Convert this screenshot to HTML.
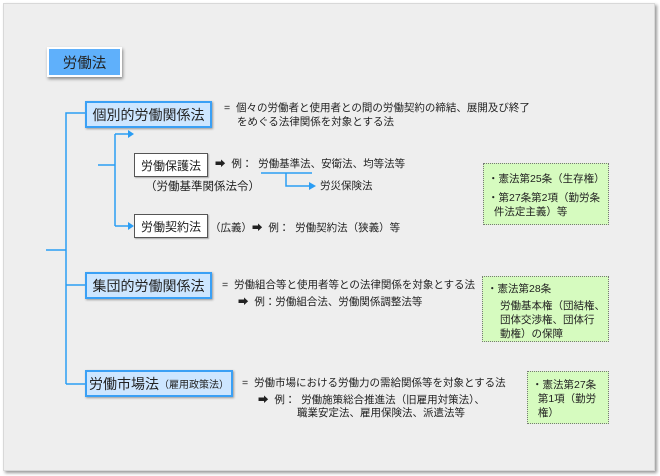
<!DOCTYPE html>
<html><head><meta charset="utf-8"><style>
body{margin:0;width:660px;height:476px;background:#fff;position:relative;overflow:hidden;font-family:"Liberation Sans","Noto Sans CJK JP",sans-serif;color:#222}
.panel{position:absolute;left:3px;top:3px;width:650px;height:466px;background:#eeeeee;border:1px solid #d8d8d8;box-shadow:2px 2px 3px #999}
.t{position:absolute;font-size:10.5px;white-space:nowrap;line-height:14px}
.box{position:absolute;box-sizing:border-box;display:flex;align-items:center;justify-content:center;white-space:nowrap}
.blue{background:#cde6ff;border:2px solid #3aa0f5;font-size:14px;box-shadow:1px 1px 2px #999}
.white{background:#fff;border:1px solid #555;font-size:12px;box-shadow:1px 1px 1px #aaa}
.green{position:absolute;box-sizing:border-box;background:#d6fbbf;border:1px dotted #777;font-size:10.5px;line-height:14px;padding:6px 4px;white-space:nowrap}
</style></head><body>
<div class="panel"></div>
<div class="box" style="left:47px;top:47px;width:75px;height:30px;background:#5fb0fb;border:2px solid #fff;box-shadow:1px 2px 3px #888;font-size:14.5px;">労働法</div>
<svg style="position:absolute;left:0;top:0" width="660" height="476">
<g stroke="#2a9df4" stroke-width="1.5" fill="none">
<path d="M46 250H66M66 384V113H85M66 285H85M66 384H85"/>
<path d="M98 165H115M115 134V226M115 134H128M115 226H128"/>
<path d="M261 173H312M286 173V186H310"/>
</g>
<g fill="#2a9df4">
<path d="M128 130L134 134L128 138Z"/><path d="M128 222L134 226L128 230Z"/><path d="M309 182L316 186L309 190Z"/>
</g>
</svg>
<div class="box blue" style="left:85px;top:101px;width:127px;height:27px">個別的労働関係法</div>
<div class="t" style="left:224px;top:101px">=&nbsp; 個々の労働者と使用者との間の労働契約の締結、展開及び終了</div>
<div class="t" style="left:237px;top:115px">をめぐる法律関係を対象とする法</div>
<div class="box white" style="left:134px;top:153px;width:74px;height:24px">労働保護法</div>
<div class="t" style="left:215px;top:157px">➡&nbsp; 例：&nbsp; 労働基準法、安衛法、均等法等</div>
<div class="t" style="left:320px;top:179px">労災保険法</div>
<div class="t" style="left:145px;top:180px;font-size:11.5px">（労働基準関係法令）</div>
<div class="box white" style="left:134px;top:214px;width:74px;height:24px">労働契約法</div>
<div class="t" style="left:210px;top:221px">（広義）➡&nbsp; 例：&nbsp; 労働契約法（狭義）等</div>
<div class="green" style="left:483px;top:163px;width:126px;height:62px;padding-top:8px">・憲法第25条（生存権）<div style="margin-top:5px">・第27条第2項（勤労条<br>&nbsp;&nbsp;件法定主義）等</div></div>
<div class="box blue" style="left:85px;top:272px;width:127px;height:27px">集団的労働関係法</div>
<div class="t" style="left:222px;top:278px">=&nbsp; 労働組合等と使用者等との法律関係を対象とする法</div>
<div class="t" style="left:238px;top:295px">➡&nbsp; 例：労働組合法、労働関係調整法等</div>
<div class="green" style="left:482px;top:276px;width:127px;height:66px;padding-top:5px">・憲法第28条<br><div style="padding-left:13px;margin-top:3px">労働基本権（団結権、<br>団体交渉権、団体行<br>動権）の保障</div></div>
<div class="box blue" style="left:85px;top:370px;width:148px;height:27px">労働市場法<span style="font-size:10px">（雇用政策法）</span></div>
<div class="t" style="left:242px;top:376px">=&nbsp; 労働市場における労働力の需給関係等を対象とする法</div>
<div class="t" style="left:258px;top:393px">➡&nbsp; 例：&nbsp; 労働施策総合推進法（旧雇用対策法）、</div>
<div class="t" style="left:297px;top:406px">職業安定法、雇用保険法、派遣法等</div>
<div class="green" style="left:527px;top:371px;width:82px;height:53px;padding-top:6px">・憲法第27条<br>&nbsp;&nbsp;第1項（勤労<br>&nbsp;&nbsp;権）</div>
</body></html>
